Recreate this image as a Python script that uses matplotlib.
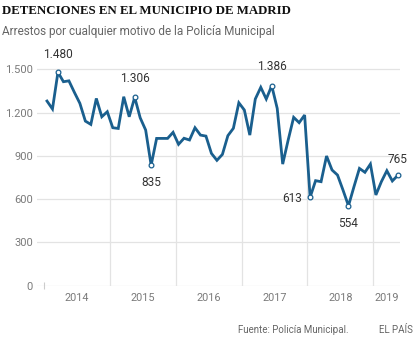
import numpy as np
import matplotlib
matplotlib.use("Agg")
import matplotlib.pyplot as plt
from matplotlib.ticker import FuncFormatter

# Detenciones mensuales, enero 2014 - mayo 2019
arrests = [
    1280, 1225, 1480, 1414, 1420, 1340, 1264, 1141, 1118, 1298, 1171, 1206,   # 2014
    1095, 1090, 1310, 1171, 1306, 1164, 1079, 835, 1021, 1021, 1021, 1063,    # 2015
    980, 1022, 1010, 1095, 1044, 1037, 917, 869, 910, 1040, 1091, 1268,       # 2016
    1218, 1044, 1294, 1375, 1294, 1386, 1229, 843, 1010, 1167, 1130, 1183,    # 2017
    613, 728, 721, 899, 802, 767, 663, 554, 686, 813, 786, 843,               # 2018
    629, 721, 797, 726, 765,                                                  # 2019
]
years = ["2014", "2015", "2016", "2017", "2018", "2019"]
highlights = {2: "1.480", 16: "1.306", 19: "835", 41: "1.386",
              48: "613", 55: "554", 64: "765"}
yticks = [0, 300, 600, 900, 1200, 1500]

BLUE = "#1a5f8e"
GRID = "#e3e3e3"
GREY = "#7a7a7a"
DARK = "#333333"
FONT = "Roboto"

x = np.arange(len(arrests))
y = np.array(arrests)

fig = plt.figure(figsize=(4.14, 3.44), dpi=100)
ax = fig.add_axes([0.0894, 0.1695, 0.8768, 0.650])

ax.set_xlim(-1.82, 64.4)
ax.set_ylim(0, 1550)

# horizontal grid
for v in yticks:
    ax.axhline(v, color=GRID, lw=0.9, zorder=0)

# year separators rise from the baseline up to the series
bounds = [11.5, 23.5, 35.5, 47.5, 59.5]
for b in bounds:
    ax.vlines(b, 0, np.interp(b, x, y), color=GRID, lw=0.9, zorder=0)
ax.vlines(-0.5, -25, 25, color="#cccccc", lw=0.8, zorder=0, clip_on=False)

ax.plot(x, y, color=BLUE, lw=2.0, solid_joinstyle="miter", zorder=3)

hx = list(highlights.keys())
ax.plot(hx, y[hx], "o", ms=3.4, mfc="white", mec=BLUE, mew=0.9,
        zorder=4, clip_on=False)

offsets = {2: (0, 8, "center", "bottom"), 16: (0, 9, "center", "bottom"),
           19: (0, -8, "center", "top"), 41: (0, 9, "center", "bottom"),
           48: (-6, -1, "right", "center"), 55: (0, -8, "center", "top"),
           64: (0, 7, "center", "bottom")}
for i, txt in highlights.items():
    dx, dy, ha, va = offsets[i]
    ax.annotate(txt, (i, arrests[i]), xytext=(dx, dy), textcoords="offset points",
                ha=ha, va=va, fontsize=8.6, color=DARK, family=FONT)

ax.set_yticks(yticks)
ax.yaxis.set_major_formatter(FuncFormatter(lambda v, _: f"{int(v):,}".replace(",", ".")))
ax.tick_params(axis="y", length=0, pad=3, labelsize=8.0, labelcolor=GREY)
for lab in ax.get_yticklabels():
    lab.set_family(FONT)

# year labels centred on the months each year covers
starts = [-0.5] + bounds
ends = bounds + [x[-1] + 0.5]
ax.set_xticks([(s + e) / 2 for s, e in zip(starts, ends)])
ax.set_xticklabels(years, family=FONT)
ax.tick_params(axis="x", length=0, pad=5, labelsize=7.8, labelcolor=GREY)

for s in ax.spines.values():
    s.set_visible(False)

fig.text(0.005, 0.985, "DETENCIONES EN EL MUNICIPIO DE MADRID", ha="left", va="top",
         fontsize=9.3, fontweight="bold", family="Liberation Serif", color="#111111")
fig.text(0.005, 0.907, "Arrestos por cualquier motivo de la Policía Municipal",
         ha="left", va="center", fontsize=8.5, color="#666666", family=FONT)

fig.text(0.842, 0.042, "Fuente: Policía Municipal.", ha="right", va="center",
         fontsize=7.0, color="#666666", family=FONT)
fig.text(0.998, 0.042, "EL PAÍS", ha="right", va="center",
         fontsize=7.0, color="#666666", family=FONT)

fig.savefig("out.png", dpi=100)
